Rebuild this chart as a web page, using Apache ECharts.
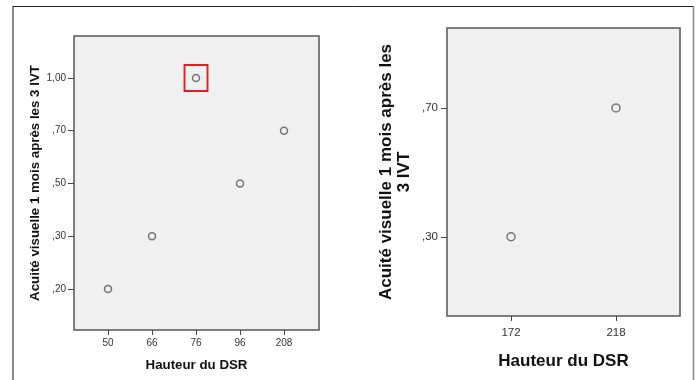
<!DOCTYPE html>
<html>
<head>
<meta charset="utf-8">
<script src="https://cdn.jsdelivr.net/npm/echarts@6/dist/echarts.min.js"></script>
<style>
html,body{margin:0;padding:0;background:#fff;}
#chart{width:699px;height:380px;}
</style>
</head>
<body>
<div id="chart"></div>
<script>
// ---- Data ----
const leftXLabels = ['50', '66', '76', '96', '208'];
const leftYLevels = [0.20, 0.30, 0.50, 0.70, 1.00];
const leftYLabels = [',20', ',30', ',50', ',70', '1,00'];
const leftYValues = [0.20, 0.30, 1.00, 0.50, 0.70];
const leftHighlight = '76';

const rightXLabels = ['172', '218'];
const rightYLevels = [0.30, 0.70];
const rightYLabels = [',30', ',70'];
const rightYValues = [0.30, 0.70];

const yTitle = 'Acuité visuelle 1 mois après les 3 IVT';
const yTitleRight = 'Acuité visuelle 1 mois après les\n3 IVT';
const xTitle = 'Hauteur du DSR';

// ---- Build ----
const FONT = '"Liberation Sans", Arial, sans-serif';
const idx = n => Array.from({length: n}, (_, i) => i);
const leftData = leftXLabels.map((x, i) => [i, leftYLevels.indexOf(leftYValues[i])]);
const rightData = rightXLabels.map((x, i) => [i, rightYLevels.indexOf(rightYValues[i])]);
const hi = leftXLabels.indexOf(leftHighlight);

function xAxisDef(gridIndex, labels, min, max, fs, lm, title, titleFs, gap) {
  return {
    type: 'value', gridIndex, min, max, position: 'bottom',
    splitLine: {show: false},
    axisLine: {show: false, onZero: false},
    axisTick: {show: true, customValues: idx(labels.length), length: 5, lineStyle: {color: '#444', width: 1}},
    axisLabel: {customValues: idx(labels.length), formatter: v => labels[Math.round(v)], fontFamily: FONT, fontSize: fs, color: '#333', margin: lm},
    name: title, nameLocation: 'middle', nameGap: gap,
    nameTextStyle: {fontFamily: FONT, fontWeight: 'bold', fontSize: titleFs, color: '#111'}
  };
}
function yAxisDef(gridIndex, labels, min, max, fs, lm, title, titleFs, gap, lh) {
  return {
    type: 'value', gridIndex, min, max, position: 'left',
    splitLine: {show: false},
    axisLine: {show: false, onZero: false},
    axisTick: {show: true, customValues: idx(labels.length), length: 6, lineStyle: {color: '#444', width: 1}},
    axisLabel: {customValues: idx(labels.length), formatter: v => labels[Math.round(v)], fontFamily: FONT, fontSize: fs, color: '#333', margin: lm},
    name: title, nameLocation: 'middle', nameGap: gap, nameRotate: 90,
    nameTextStyle: {fontFamily: FONT, fontWeight: 'bold', fontSize: titleFs, color: '#111', lineHeight: lh}
  };
}

const chart = echarts.init(document.getElementById('chart'), null, {renderer: 'canvas'});
const circleStyle = {color: 'rgba(0,0,0,0)', borderColor: '#555', borderWidth: 1.5};

chart.setOption({
  animation: false,
  backgroundColor: '#fff',
  graphic: [
    {type: 'line', shape: {x1: 13, y1: 6, x2: 13, y2: 380}, style: {stroke: '#888', lineWidth: 2}},
    {type: 'line', shape: {x1: 13, y1: 6.5, x2: 694, y2: 6.5}, style: {stroke: '#222', lineWidth: 1}},
    {type: 'line', shape: {x1: 693.5, y1: 6, x2: 693.5, y2: 380}, style: {stroke: '#888', lineWidth: 1.5}}
  ],
  grid: [
    {left: 74, top: 36, width: 245, height: 294, show: true, backgroundColor: '#f0f0f0', borderColor: '#555', borderWidth: 1.5},
    {left: 447, top: 28, width: 233, height: 288, show: true, backgroundColor: '#f0f0f0', borderColor: '#555', borderWidth: 1.5}
  ],
  xAxis: [
    xAxisDef(0, leftXLabels, -0.773, 4.795, 10, 8, xTitle, 13.3, 29),
    xAxisDef(1, rightXLabels, -0.61, 1.61, 11.5, 11, xTitle, 17, 37)
  ],
  yAxis: [
    yAxisDef(0, leftYLabels, -0.777, 4.796, 10, 8, yTitle, 13.3, 29, 15),
    yAxisDef(1, rightYLabels, -0.615, 1.62, 11.5, 9, yTitleRight, 17, 34, 18)
  ],
  series: [
    {
      type: 'scatter', xAxisIndex: 0, yAxisIndex: 0, data: leftData,
      symbol: 'circle', symbolSize: 7, itemStyle: circleStyle,
      markPoint: {
        symbol: 'rect', symbolSize: [23, 26],
        itemStyle: {color: 'rgba(0,0,0,0)', borderColor: '#e02020', borderWidth: 2},
        label: {show: false},
        data: [{coord: leftData[hi]}]
      }
    },
    {
      type: 'scatter', xAxisIndex: 1, yAxisIndex: 1, data: rightData,
      symbol: 'circle', symbolSize: 8, itemStyle: circleStyle
    }
  ]
});
</script>
</body>
</html>
